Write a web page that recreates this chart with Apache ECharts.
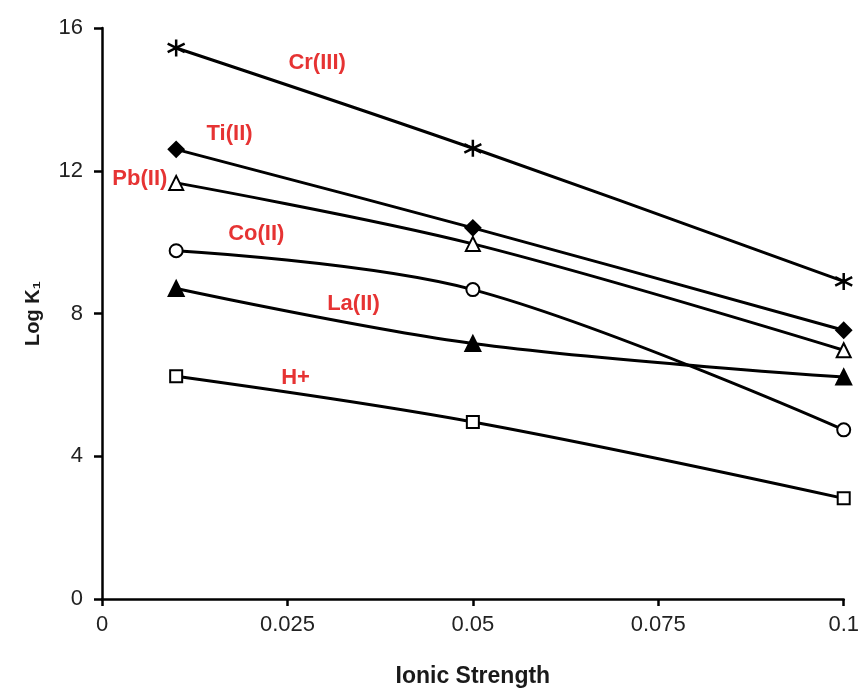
<!DOCTYPE html>
<html><head><meta charset="utf-8">
<script src="https://cdn.jsdelivr.net/npm/echarts@6/dist/echarts.min.js"></script>
<style>html,body{margin:0;padding:0;background:#fff}#c{width:862px;height:693px}</style>
</head><body><div id="c"></div>
<script>
const ionic = [0.01, 0.05, 0.1];
const crIII = [15.44, 12.63, 8.90];
const tiII = [12.60, 10.40, 7.53];
const pbII = [11.66, 9.95, 6.97];
const coII = [9.76, 8.67, 4.74];
const laII = [8.70, 7.16, 6.22];
const hPlus = [6.24, 4.96, 2.82];
const labelNames = ['Cr(III)', 'Ti(II)', 'Pb(II)', 'Co(II)', 'La(II)', 'H+'];
const labelX = [0.029, 0.0172, 0.0051, 0.0208, 0.0339, 0.0261];
const labelY = [15.02, 13.02, 11.76, 10.23, 8.28, 6.19];
const xTicks = [0, 0.025, 0.05, 0.075, 0.1];
const yTicks = [0, 4, 8, 12, 16];

const star = 'path://M0,-10L0,10M-8.66,-5L8.66,5M-8.66,5L8.66,-5';
function pts(ys){ return ionic.map((x,i)=>[x, ys[i]]); }
function mk(name, ys, symbol, size, bw){
  return {
    name, type:'line', data: pts(ys), smooth: 0.35,
    symbol, symbolSize: size, showSymbol: true,
    lineStyle:{color:'#000', width:3},
    itemStyle:{color:'#000', borderColor:'#000', borderWidth:bw || 2},
    z: 3
  };
}
const font = 'Liberation Sans, Arial';
const chart = echarts.init(document.getElementById('c'), null, {renderer:'canvas'});
chart.setOption({
  animation:false,
  backgroundColor:'#fff',
  grid:{left:102, right:16, top:28, bottom:91, containLabel:false},
  xAxis:{
    type:'value', min:0, max:0.1, interval:0.025,
    name:'Ionic Strength', nameLocation:'middle', nameGap:66,
    nameTextStyle:{fontFamily:font, fontSize:23, fontWeight:'bold', color:'#1a1a1a'},
    axisLine:{show:true, lineStyle:{color:'#000', width:2.5}},
    axisTick:{show:true, length:7, lineStyle:{color:'#000', width:2.5}},
    axisLabel:{fontFamily:font, fontSize:22, color:'#222', margin:15,
      formatter: v => { const t = xTicks.find(k=>Math.abs(k-v)<1e-9); return String(t!==undefined?t:v); }},
    splitLine:{show:false}
  },
  yAxis:{
    type:'value', min:0, max:16, interval:4,
    name:'Log K\u2081', nameLocation:'middle', nameGap:59, nameRotate:90,
    nameTextStyle:{fontFamily:font, fontSize:20, fontWeight:'bold', color:'#1a1a1a'},
    axisLine:{show:true, lineStyle:{color:'#000', width:2.5}},
    axisTick:{show:true, length:8, lineStyle:{color:'#000', width:2.5}},
    axisLabel:{fontFamily:font, fontSize:22, color:'#222', margin:19,
      formatter: v => { const t = yTicks.find(k=>k===v); return String(t!==undefined?t:v); }},
    splitLine:{show:false}
  },
  series:[
    mk('Cr(III)', crIII, star, 17, 2.5),
    mk('Ti(II)', tiII, 'diamond', 15),
    mk('Pb(II)', pbII, 'emptyTriangle', 14),
    mk('Co(II)', coII, 'emptyCircle', 13),
    mk('La(II)', laII, 'triangle', 15),
    mk('H+', hPlus, 'emptyRect', 12),
    {
      type:'scatter', symbolSize:0, silent:true, z:5,
      data: labelNames.map((n,i)=>({value:[labelX[i], labelY[i]], name:n})),
      label:{show:true, position:'inside', formatter: p => p.name,
        fontFamily:font, fontSize:22, fontWeight:'bold', color:'#e00000'}
    }
  ]
});
</script></body></html>
